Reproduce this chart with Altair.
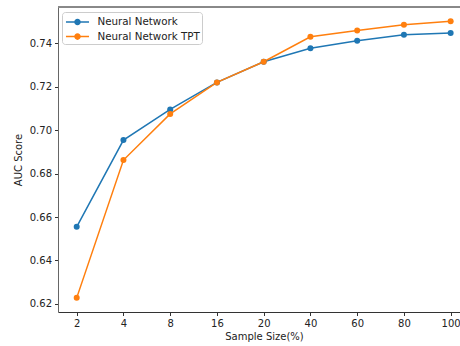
import altair as alt
import pandas as pd

sample_sizes = ["2", "4", "8", "16", "20", "40", "60", "80", "100"]
nn_auc = [0.6555, 0.6954, 0.7095, 0.7219, 0.7314, 0.7376, 0.7411, 0.7438, 0.7446]
tpt_auc = [0.6228, 0.6862, 0.7074, 0.7219, 0.7314, 0.7429, 0.7458, 0.7484, 0.7501]
series_names = ["Neural Network", "\u00a0Neural Network TPT"]
series_colors = ["#1f77b4", "#ff7f0e"]
y_ticks = [0.62, 0.64, 0.66, 0.68, 0.70, 0.72, 0.74]

rows = []
for i, s in enumerate(sample_sizes):
    rows.append({"idx": i, "size": s, "auc": nn_auc[i], "series": series_names[0]})
for i, s in enumerate(sample_sizes):
    rows.append({"idx": i, "size": s, "auc": tpt_auc[i], "series": series_names[1]})
df = pd.DataFrame(rows)

W, H = 402, 305
FONT = "DejaVu Sans"

label_arr = "[" + ",".join("'%s'" % s for s in sample_sizes) + "]"

x_enc = alt.X(
    "idx:Q",
    scale=alt.Scale(domain=[-0.4, 8.2], nice=False, zero=False),
    axis=alt.Axis(
        values=list(range(len(sample_sizes))),
        labelExpr=label_arr + "[datum.value]",
        title="Sample Size(%)",
        titleX=206,
        titleFontWeight="normal",
        titleFontSize=10,
        titlePadding=3,
        labelFontSize=10,
        labelPadding=3,
        tickSize=3.5,
        grid=False,
        domainColor="#333333",
        tickColor="#333333",
        labelColor="#222222",
        titleColor="#222222",
        labelFlush=False,
        labelOverlap=False,
    ),
)
y_enc = alt.Y(
    "auc:Q",
    scale=alt.Scale(domain=[0.6163, 0.7566], nice=False, zero=False),
    axis=alt.Axis(
        values=y_ticks,
        format=".2f",
        title="AUC Score",
        titleFontWeight="normal",
        titleFontSize=10,
        titlePadding=6,
        labelFontSize=10,
        labelPadding=3,
        tickSize=3.5,
        grid=False,
        domainColor="#666666",
        tickColor="#333333",
        labelColor="#222222",
        titleColor="#222222",
    ),
)

sym_path = ("M-1.44,-0.094 H-0.35 V0.094 H-1.44 Z "
            "M0.35,-0.094 H1.44 V0.094 H0.35 Z "
            "M0.41,0 A0.41,0.41 0 1,1 -0.41,0 A0.41,0.41 0 1,1 0.41,0 Z")

color_enc = alt.Color(
    "series:N",
    scale=alt.Scale(domain=series_names, range=series_colors),
    legend=alt.Legend(
        title=None,
        orient="none",
        legendX=4,
        legendY=5,
        symbolType=sym_path,
        symbolSize=256,
        symbolStrokeWidth=0,
        symbolOpacity=1,
        symbolOffset=5.5,
        labelFontSize=10.3,
        labelFont=FONT,
        labelColor="#222222",
        labelOffset=12,
        rowPadding=0.6,
        padding=2,
        fillColor="white",
        strokeColor="#cccccc",
        cornerRadius=3,
    ),
)

lines = alt.Chart(df).mark_line(strokeWidth=1.5).encode(
    x=x_enc, y=y_enc, color=color_enc, order="idx:Q",
)
points = alt.Chart(df).mark_point(filled=True, size=36, opacity=1).encode(
    x=x_enc, y=y_enc, color=color_enc,
)
top_spine = alt.Chart(df).mark_rule(color="#888888", strokeWidth=1).encode(
    x=alt.value(0), x2=alt.value(W), y=alt.value(0)
)

chart = alt.layer(lines, points, top_spine).properties(
    width=W, height=H,
    autosize=alt.AutoSizeParams(type="none"),
    padding={"left": 58, "top": 7, "right": 0, "bottom": 34},
).configure(font=FONT).configure_view(stroke=None).configure_axis(
    labelFont=FONT, titleFont=FONT
).configure_legend(labelFont=FONT)

chart.save("out.html", embed_options={"renderer": "svg", "actions": False})
